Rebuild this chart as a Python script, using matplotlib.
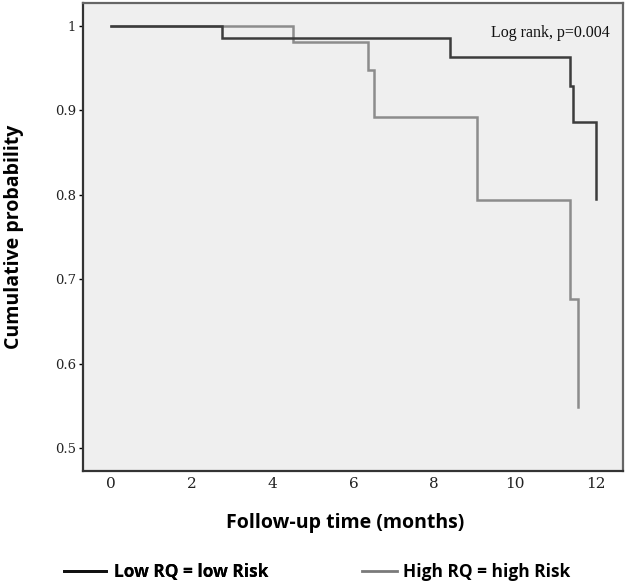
import matplotlib
matplotlib.use("Agg")
import matplotlib.pyplot as plt
from matplotlib.lines import Line2D

# Data (Kaplan-Meier steps)
low_times = [0, 2.75, 8.4, 11.35, 11.42, 12.0]
low_surv = [1.0, 0.986, 0.963, 0.929, 0.886, 0.795]
high_times = [0, 4.5, 6.35, 6.5, 9.05, 11.35, 11.55]
high_surv = [1.0, 0.981, 0.948, 0.892, 0.794, 0.676, 0.548]
x_ticks = [0, 2, 4, 6, 8, 10, 12]
y_ticks = [0.5, 0.6, 0.7, 0.8, 0.9, 1.0]
y_labels = ["0.5", "0.6", "0.7", "0.8", "0.9", "1"]
labels = ["Low RQ = low Risk", "High RQ = high Risk"]

fig = plt.figure(figsize=(6.3, 5.84), dpi=100)
ax = fig.add_axes([0.1317, 0.1935, 0.989 - 0.1317, 0.9949 - 0.1935])
ax.set_facecolor("#efefef")

def km_xy(times, surv):
    xs, ys = [], []
    for i, (t, s) in enumerate(zip(times, surv)):
        if i == 0:
            xs.append(t); ys.append(s)
        else:
            xs.append(t); ys.append(surv[i - 1])
            xs.append(t); ys.append(s)
    return xs, ys

hx, hy = km_xy(high_times, high_surv)
lx, ly = km_xy(low_times, low_surv)
ax.plot(hx, hy, color="#8c8c8c", lw=1.8, solid_joinstyle="miter")
ax.plot(lx, ly, color="#3c3c3c", lw=1.8, solid_joinstyle="miter")

ax.set_xlim(-0.69, 12.67)
ax.set_ylim(0.4726, 1.0274)
ax.set_xticks(x_ticks)
ax.set_xticklabels([str(v) for v in x_ticks], family="DejaVu Serif", fontsize=11, color="#222222")
ax.set_yticks(y_ticks)
ax.set_yticklabels(y_labels, family="DejaVu Serif", fontsize=9.5, color="#222222")
ax.tick_params(axis="x", length=0, pad=4)
ax.tick_params(axis="y", length=3, width=1, pad=2)
for sp in ax.spines.values():
    sp.set_linewidth(1.6)
    sp.set_color("#333333")
ax.spines["right"].set_color("#666666")
ax.spines["top"].set_color("#666666")

ax.text(0.975, 0.936, "Log rank, p=0.004", transform=ax.transAxes, ha="right", va="center",
        family="Liberation Serif", fontsize=11.5, color="#111111")

fig.text(0.022, 0.595, "Cumulative probability", rotation=90, ha="center", va="center",
         family="Open Sans", fontweight="bold", fontsize=14)
fig.text(0.548, 0.104, "Follow-up time (months)", ha="center", va="center",
         family="Open Sans", fontweight="bold", fontsize=14)

prop = {"family": "Open Sans", "weight": "bold", "size": 12.5}
leg1 = fig.legend([Line2D([], [], color="#111111", lw=2)], [labels[0]], loc="center left",
                  bbox_to_anchor=(64 / 630, 0.02), frameon=False, prop=prop,
                  handlelength=2.4, handletextpad=0.5, borderpad=0, borderaxespad=0)
fig.add_artist(leg1)
fig.legend([Line2D([], [], color="#7a7a7a", lw=2)], [labels[1]], loc="center left",
           bbox_to_anchor=(362 / 630, 0.02), frameon=False, prop=prop,
           handlelength=2.0, handletextpad=0.35, borderpad=0, borderaxespad=0)

fig.savefig("out.png", dpi=100)
